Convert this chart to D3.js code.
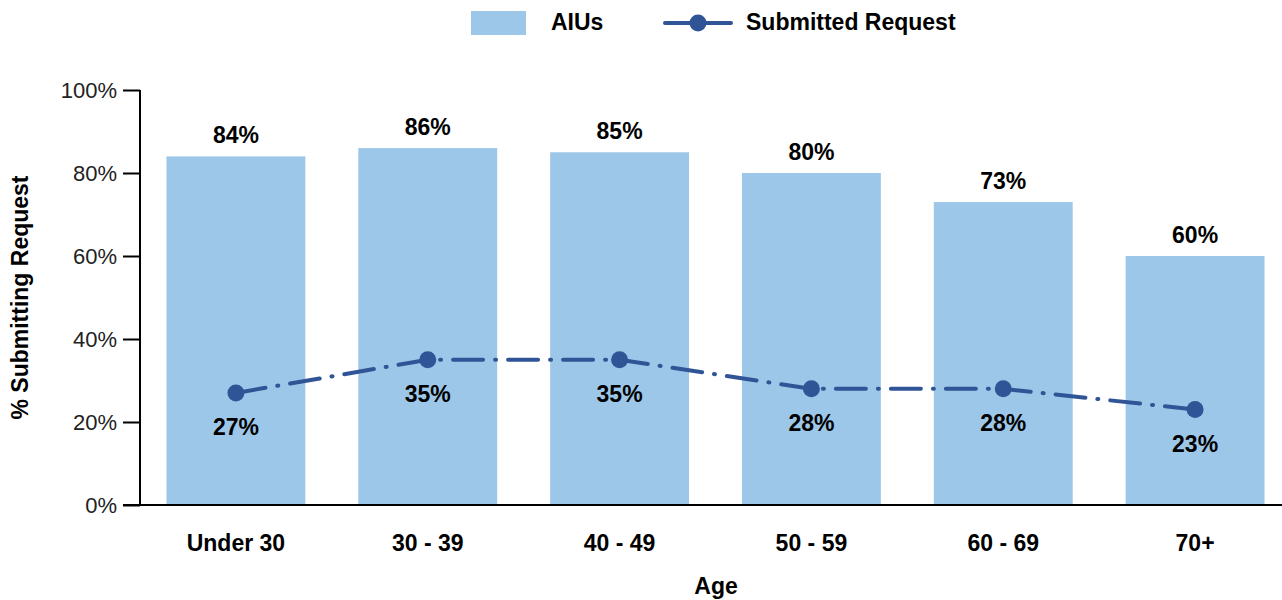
<!DOCTYPE html>
<html>
<head>
<meta charset="utf-8">
<script src="https://cdn.jsdelivr.net/npm/d3@7"></script>
<style>
  body { margin: 0; background: #fff; }
  svg { display: block; font-family: "Liberation Sans", Arial, sans-serif; }
</style>
</head>
<body>
<svg id="chart" width="1282" height="600"></svg>
<script>
/* Chart data */
var ageGroups = ["Under 30", "30 - 39", "40 - 49", "50 - 59", "60 - 69", "70+"];
var aiusPct = [84, 86, 85, 80, 73, 60];
var submittedPct = [27, 35, 35, 28, 28, 23];
var yTicks = [0, 20, 40, 60, 80, 100];

var barColor = "#9dc7e8";
var lineColor = "#2f5597";
var labelSize = 23;

var svg = d3.select("#chart");
var margin = {left: 140, top: 90, bottom: 505};

var x = d3.scaleBand()
  .domain(ageGroups)
  .range([margin.left, 1291])
  .paddingInner(0.276)
  .paddingOuter(0.138);

var y = d3.scaleLinear()
  .domain([0, 100])
  .range([margin.bottom, margin.top]);

// bars
svg.append("g")
  .selectAll("rect")
  .data(aiusPct)
  .enter().append("rect")
  .attr("x", function(d, i) { return x(ageGroups[i]); })
  .attr("y", function(d) { return y(d); })
  .attr("width", x.bandwidth())
  .attr("height", function(d) { return y(0) - y(d); })
  .attr("fill", barColor);

// bar labels
svg.append("g")
  .selectAll("text")
  .data(aiusPct)
  .enter().append("text")
  .attr("x", function(d, i) { return x(ageGroups[i]) + x.bandwidth() / 2; })
  .attr("y", function(d) { return y(d) - 13; })
  .attr("text-anchor", "middle")
  .attr("font-size", labelSize)
  .attr("font-weight", "bold")
  .text(function(d) { return d + "%"; });

// y axis
var yAxis = svg.append("g")
  .attr("transform", "translate(" + margin.left + ",0)")
  .call(d3.axisLeft(y).tickValues(yTicks).tickSize(17).tickPadding(6)
    .tickFormat(function(d) { return d + "%"; }));
yAxis.selectAll("line, path").attr("stroke", "#000").attr("stroke-width", 2);
yAxis.select(".domain").attr("d", "M0," + y(100) + "V" + y(0));
yAxis.selectAll("text").attr("font-size", 22).attr("fill", "#222").attr("font-family", "Liberation Sans, Arial, sans-serif");

// x axis line
svg.append("line")
  .attr("x1", 123).attr("x2", 1282)
  .attr("y1", y(0)).attr("y2", y(0))
  .attr("stroke", "#000").attr("stroke-width", 2);

// x labels
svg.append("g")
  .selectAll("text")
  .data(ageGroups)
  .enter().append("text")
  .attr("x", function(d) { return x(d) + x.bandwidth() / 2; })
  .attr("y", 551)
  .attr("text-anchor", "middle")
  .attr("font-size", labelSize)
  .attr("font-weight", "bold")
  .text(function(d) { return d; });

// line
var line = d3.line()
  .x(function(d, i) { return x(ageGroups[i]) + x.bandwidth() / 2; })
  .y(function(d) { return y(d); });

svg.append("path")
  .datum(submittedPct)
  .attr("d", line)
  .attr("fill", "none")
  .attr("stroke", lineColor)
  .attr("stroke-width", 4)
  .attr("stroke-linecap", "round")
  .attr("stroke-dasharray", "30,12,1,12");

svg.append("g")
  .selectAll("circle")
  .data(submittedPct)
  .enter().append("circle")
  .attr("cx", function(d, i) { return x(ageGroups[i]) + x.bandwidth() / 2; })
  .attr("cy", function(d) { return y(d); })
  .attr("r", 8.5)
  .attr("fill", lineColor);

svg.append("g")
  .selectAll("text")
  .data(submittedPct)
  .enter().append("text")
  .attr("x", function(d, i) { return x(ageGroups[i]) + x.bandwidth() / 2; })
  .attr("y", function(d) { return y(d) + 42; })
  .attr("text-anchor", "middle")
  .attr("font-size", labelSize)
  .attr("font-weight", "bold")
  .text(function(d) { return d + "%"; });

// axis titles
svg.append("text")
  .attr("transform", "translate(28," + ((y(0) + y(100)) / 2) + ") rotate(-90)")
  .attr("text-anchor", "middle")
  .attr("font-size", labelSize)
  .attr("font-weight", "bold")
  .text("% Submitting Request");

svg.append("text")
  .attr("x", 716)
  .attr("y", 594)
  .attr("text-anchor", "middle")
  .attr("font-size", labelSize)
  .attr("font-weight", "bold")
  .text("Age");

// legend
var legend = svg.append("g");
legend.append("rect")
  .attr("x", 471).attr("y", 11).attr("width", 55).attr("height", 24)
  .attr("fill", barColor);
legend.append("text")
  .attr("x", 551).attr("y", 30)
  .attr("font-size", labelSize).attr("font-weight", "bold")
  .text("AIUs");
legend.append("line")
  .attr("x1", 665).attr("x2", 731).attr("y1", 23).attr("y2", 23)
  .attr("stroke", lineColor).attr("stroke-width", 4).attr("stroke-linecap", "round");
legend.append("circle")
  .attr("cx", 698).attr("cy", 23).attr("r", 8.5).attr("fill", lineColor);
legend.append("text")
  .attr("x", 746).attr("y", 30)
  .attr("font-size", labelSize).attr("font-weight", "bold")
  .text("Submitted Request");
</script>
</body>
</html>
